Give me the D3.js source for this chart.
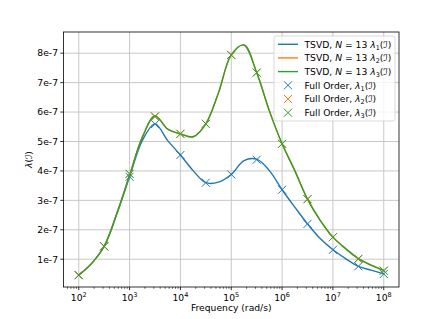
<!DOCTYPE html>
<html>
<head>
<meta charset="utf-8">
<script src="https://d3js.org/d3.v7.min.js"></script>
<style>
 body { margin: 0; background: #fff; }
 text { font-family: "DejaVu Sans", sans-serif; }
</style>
</head>
<body>
<svg id="chart" width="425" height="319"></svg>
<script>
 // log10 of frequency where the TSVD curve was read (quarter decades)
 var curveLogFreq = [2, 2.25, 2.5, 2.75, 3, 3.25, 3.5, 3.75, 4, 4.25, 4.5, 4.75, 5,
                     5.25, 5.5, 5.75, 6, 6.25, 6.5, 6.75, 7, 7.25, 7.5, 7.75, 8];
 // values in units of 1e-7
 var tsvd1 = [0.46, 0.85, 1.44, 2.55, 3.80, 5.03, 5.60, 5.03, 4.54, 4.01, 3.60, 3.62, 3.88,
              4.35, 4.40, 4.01, 3.36, 2.77, 2.20, 1.70, 1.32, 1.02, 0.76, 0.63, 0.50];
 var tsvd2 = [0.46, 0.85, 1.44, 2.55, 3.85, 5.14, 5.87, 5.42, 5.26, 5.16, 5.60, 6.66, 7.94,
              8.28, 7.34, 6.04, 4.92, 4.01, 3.04, 2.32, 1.75, 1.36, 1.02, 0.80, 0.62];
 var tsvd3 = tsvd2.slice();

 // full order points (half decades)
 var fullLogFreq = [2, 2.5, 3, 3.5, 4, 4.5, 5, 5.5, 6, 6.5, 7, 7.5, 8];
 var full1 = [0.46, 1.44, 3.80, 5.59, 4.54, 3.60, 3.88, 4.38, 3.36, 2.20, 1.32, 0.76, 0.50];
 var full2 = [0.46, 1.44, 3.90, 5.85, 5.26, 5.60, 7.94, 7.34, 4.92, 3.04, 1.75, 1.01, 0.61];
 var full3 = full2.slice();

 var yTicks = [1, 2, 3, 4, 5, 6, 7, 8];
 var yTickLabels = ["1e-7", "2e-7", "3e-7", "4e-7", "5e-7", "6e-7", "7e-7", "8e-7"];
 var xTickExp = [2, 3, 4, 5, 6, 7, 8];

 var colors = ["#1f77b4", "#ff7f0e", "#2ca02c"];

 var pl = 63.5, pr = 399, pt = 32, pb = 287;
 var svg = d3.select("#chart");

 var x = d3.scaleLog().domain([Math.pow(10, 1.7), Math.pow(10, 8.3)]).range([pl, pr]);
 var y = d3.scaleLinear().domain([0.056, 8.72]).range([pb, pt]);

 // grid
 var grid = svg.append("g");
 xTickExp.forEach(function(e) {
     grid.append("line").attr("x1", x(Math.pow(10, e))).attr("x2", x(Math.pow(10, e)))
         .attr("y1", pt).attr("y2", pb)
         .attr("stroke", "#c8c8c8").attr("stroke-width", 1);
 });
 yTicks.forEach(function(v) {
     grid.append("line").attr("x1", pl).attr("x2", pr)
         .attr("y1", y(v)).attr("y2", y(v))
         .attr("stroke", "#c8c8c8").attr("stroke-width", 1);
 });

 // curves
 var line = d3.line()
              .x(function(d) { return x(Math.pow(10, d[0])); })
              .y(function(d) { return y(d[1]); })
              .curve(d3.curveCatmullRom.alpha(0.5));

 [tsvd1, tsvd2, tsvd3].forEach(function(s, i) {
     svg.append("path")
        .attr("d", line(curveLogFreq.map(function(f, j) { return [f, s[j]]; })))
        .attr("fill", "none").attr("stroke", colors[i]).attr("stroke-width", 1.4);
 });

 // x markers
 function cross(g, cx, cy, r, color) {
     g.append("path")
      .attr("d", "M" + (cx - r) + "," + (cy - r) + "L" + (cx + r) + "," + (cy + r) +
                 "M" + (cx - r) + "," + (cy + r) + "L" + (cx + r) + "," + (cy - r))
      .attr("stroke", color).attr("stroke-width", 1).attr("fill", "none");
 }
 [full1, full2, full3].forEach(function(s, i) {
     var g = svg.append("g");
     s.forEach(function(v, j) {
         cross(g, x(Math.pow(10, fullLogFreq[j])), y(v), 4, colors[i]);
     });
 });

 // frame
 svg.append("rect").attr("x", pl).attr("y", pt)
    .attr("width", pr - pl).attr("height", pb - pt)
    .attr("fill", "none").attr("stroke", "#000").attr("stroke-width", 0.8);

 // x ticks
 var ax = svg.append("g");
 xTickExp.forEach(function(e) {
     var px = x(Math.pow(10, e));
     ax.append("line").attr("x1", px).attr("x2", px).attr("y1", pb).attr("y2", pb + 3.2)
       .attr("stroke", "#000").attr("stroke-width", 0.8);
     var t = ax.append("text").attr("x", px).attr("y", pb + 13.5)
       .attr("text-anchor", "middle").attr("font-size", "9.2px").attr("fill", "#000");
     t.append("tspan").text("10");
     t.append("tspan").attr("font-size", "6.5px").attr("dy", "-3.6").text(e);
 });
 for (var e = 1; e <= 8; e++) {
     for (var k = 2; k <= 9; k++) {
         var f = k * Math.pow(10, e);
         if (f < x.domain()[0] || f > x.domain()[1]) continue;
         ax.append("line").attr("x1", x(f)).attr("x2", x(f)).attr("y1", pb).attr("y2", pb + 1.8)
           .attr("stroke", "#000").attr("stroke-width", 0.6);
     }
 }
 svg.append("text").attr("x", (pl + pr) / 2).attr("y", 310.5)
    .attr("text-anchor", "middle").attr("font-size", "9.2px").text("Frequency (rad/s)");

 // y ticks
 yTicks.forEach(function(v, i) {
     ax.append("line").attr("x1", pl - 3.2).attr("x2", pl).attr("y1", y(v)).attr("y2", y(v))
       .attr("stroke", "#000").attr("stroke-width", 0.8);
     ax.append("text").attr("x", pl - 5.5).attr("y", y(v) + 3.3)
       .attr("text-anchor", "end").attr("font-size", "9.2px").text(yTickLabels[i]);
 });
 var yl = svg.append("text").attr("transform", "translate(32," + ((pt + pb) / 2) + ") rotate(-90)")
    .attr("text-anchor", "middle").attr("font-size", "9.2px");
 yl.append("tspan").attr("font-style", "italic").text("λ");
 yl.append("tspan").text("(");
 yl.append("tspan").attr("font-style", "italic").text("ℐ");
 yl.append("tspan").text(")");

 // legend
 var lg = svg.append("g");
 lg.append("rect").attr("x", 274).attr("y", 36).attr("width", 121).attr("height", 85)
   .attr("rx", 2).attr("fill", "#fff").attr("fill-opacity", 0.8)
   .attr("stroke", "#d0d0d0").attr("stroke-width", 0.8);
 function legendLabel(ly, prefix, idx, withN) {
     var t = lg.append("text").attr("x", 304.5).attr("y", ly + 3.3).attr("font-size", "9.2px");
     t.append("tspan").text(prefix);
     if (withN) {
         t.append("tspan").attr("font-style", "italic").text("N");
         t.append("tspan").text(" = 13 ");
     }
     t.append("tspan").attr("font-style", "italic").text("λ");
     t.append("tspan").attr("font-size", "6.5px").attr("dy", "2").text(idx);
     t.append("tspan").attr("dy", "-2").text("(");
     t.append("tspan").attr("font-style", "italic").text("ℐ");
     t.append("tspan").text(")");
 }
 var rowY = [44.3, 57.9, 71.6, 85.3, 99, 112.7];
 for (var i = 0; i < 3; i++) {
     lg.append("line").attr("x1", 278).attr("x2", 298).attr("y1", rowY[i]).attr("y2", rowY[i])
       .attr("stroke", colors[i]).attr("stroke-width", 1.4);
     legendLabel(rowY[i], "TSVD, ", i + 1, true);
 }
 for (var i = 0; i < 3; i++) {
     cross(lg, 288, rowY[i + 3], 4, colors[i]);
     legendLabel(rowY[i + 3], "Full Order, ", i + 1, false);
 }
</script>
</body>
</html>
